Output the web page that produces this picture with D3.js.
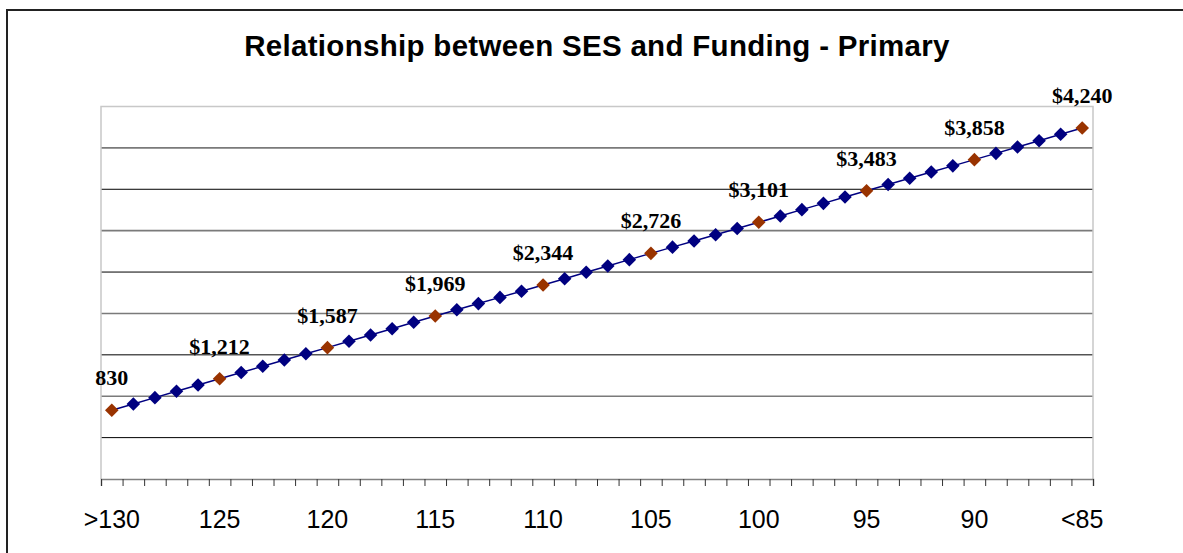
<!DOCTYPE html>
<html>
<head>
<meta charset="utf-8">
<script src="https://cdn.jsdelivr.net/npm/d3@7/dist/d3.min.js"></script>
<style>
  html, body { margin: 0; padding: 0; background: #fff; }
  svg { display: block; }
</style>
</head>
<body>
<div id="chart"></div>
<script>
// SES score categories, highest (most advantaged) on the left
const ses = [130, 129, 128, 127, 126, 125, 124, 123, 122, 121,
             120, 119, 118, 117, 116, 115, 114, 113, 112, 111,
             110, 109, 108, 107, 106, 105, 104, 103, 102, 101,
             100, 99, 98, 97, 96, 95, 94, 93, 92, 91,
             90, 89, 88, 87, 86, 85];

// Funding per student ($) at each SES score
const funding = [830, 906, 983, 1059, 1136, 1212, 1287, 1362, 1437, 1512,
                 1587, 1663, 1740, 1816, 1893, 1969, 2044, 2119, 2194, 2269,
                 2344, 2420, 2497, 2573, 2650, 2726, 2801, 2876, 2951, 3026,
                 3101, 3177, 3254, 3330, 3407, 3483, 3558, 3633, 3708, 3783,
                 3858, 3934, 4011, 4087, 4164, 4240];

// Scores that carry a highlighted marker and a value label
const labelledScores = [130, 125, 120, 115, 110, 105, 100, 95, 90, 85];
const valueLabels = ["830", "$1,212", "$1,587", "$1,969", "$2,344",
                     "$2,726", "$3,101", "$3,483", "$3,858", "$4,240"];

// Axis tick labels under every fifth score
const axisLabels = [">130", "125", "120", "115", "110", "105", "100", "95", "90", "<85"];

const yGrid = [500, 1000, 1500, 2000, 2500, 3000, 3500, 4000];

const W = 1183, H = 553;
const plot = { left: 101, right: 1093, top: 106.5, bottom: 479 };

const svg = d3.select("#chart").append("svg")
  .attr("width", W).attr("height", H);

// Outer chart frame
svg.append("rect")
  .attr("x", 7).attr("y", 10)
  .attr("width", 1300).attr("height", 700)
  .attr("fill", "#fff").attr("stroke", "#222").attr("stroke-width", 2);

// Title
svg.append("text")
  .attr("x", 597).attr("y", 56)
  .attr("text-anchor", "middle")
  .attr("font-family", "'Liberation Sans', Arial, sans-serif")
  .attr("font-weight", "bold")
  .attr("font-size", 29.5)
  .attr("letter-spacing", 0.3)
  .text("Relationship between SES and Funding - Primary");

// Scales: each score sits in the middle of its slot
const x = d3.scaleLinear()
  .domain([130.5, 84.5])
  .range([plot.left, plot.right]);

const y = d3.scaleLinear()
  .domain([0, 4500])
  .range([plot.bottom, plot.top]);

// Horizontal gridlines
svg.append("g").selectAll("line")
  .data(yGrid).join("line")
  .attr("x1", plot.left).attr("x2", plot.right)
  .attr("y1", d => y(d)).attr("y2", d => y(d))
  .attr("stroke", (d, i) => i % 2 === 0 ? "#000" : "#7a7a7a")
  .attr("stroke-width", (d, i) => i % 2 === 0 ? 1 : 1.6);

// Plot area border (top, left, right)
svg.append("path")
  .attr("d", `M${plot.left},${plot.bottom}V${plot.top}H${plot.right}V${plot.bottom}`)
  .attr("fill", "none")
  .attr("stroke", "#c8c8c8")
  .attr("stroke-width", 1.5);

// Category axis with a tick at every slot boundary
const boundaries = d3.range(47).map(i => 130.5 - i);
const xAxis = d3.axisBottom(x)
  .tickValues(boundaries)
  .tickSize(7)
  .tickFormat("");

const axisG = svg.append("g")
  .attr("transform", `translate(0,${plot.bottom})`)
  .call(xAxis);
axisG.select(".domain").attr("stroke", "#808080").attr("stroke-width", 1.5);
axisG.selectAll(".tick line").attr("stroke", "#333");

// Tick labels under every fifth score
svg.append("g").selectAll("text")
  .data(labelledScores).join("text")
  .attr("x", d => x(d))
  .attr("y", 528)
  .attr("text-anchor", "middle")
  .attr("font-family", "'Liberation Sans', Arial, sans-serif")
  .attr("font-size", 25)
  .attr("fill", "#000")
  .text((d, i) => axisLabels[i]);

// Series line
const points = ses.map((s, i) => ({ s, v: funding[i] }));
svg.append("path")
  .datum(points)
  .attr("fill", "none")
  .attr("stroke", "#000080")
  .attr("stroke-width", 1.5)
  .attr("d", d3.line().x(d => x(d.s)).y(d => y(d.v)));

// Diamond markers
const diamond = d3.symbol().type(d3.symbolSquare).size(92);
svg.append("g").selectAll("path")
  .data(points).join("path")
  .attr("d", diamond)
  .attr("transform", d => `translate(${x(d.s)},${y(d.v)}) rotate(45)`)
  .attr("fill", d => labelledScores.includes(d.s) ? "#993300" : "#000080");

// Value labels above highlighted markers
svg.append("g").selectAll("text")
  .data(labelledScores).join("text")
  .attr("x", d => x(d))
  .attr("y", d => y(funding[ses.indexOf(d)]) - 25)
  .attr("text-anchor", "middle")
  .attr("font-family", "'Liberation Serif', 'Times New Roman', serif")
  .attr("font-weight", "bold")
  .attr("font-size", 22)
  .attr("fill", "#000")
  .text((d, i) => valueLabels[i]);
</script>
</body>
</html>
